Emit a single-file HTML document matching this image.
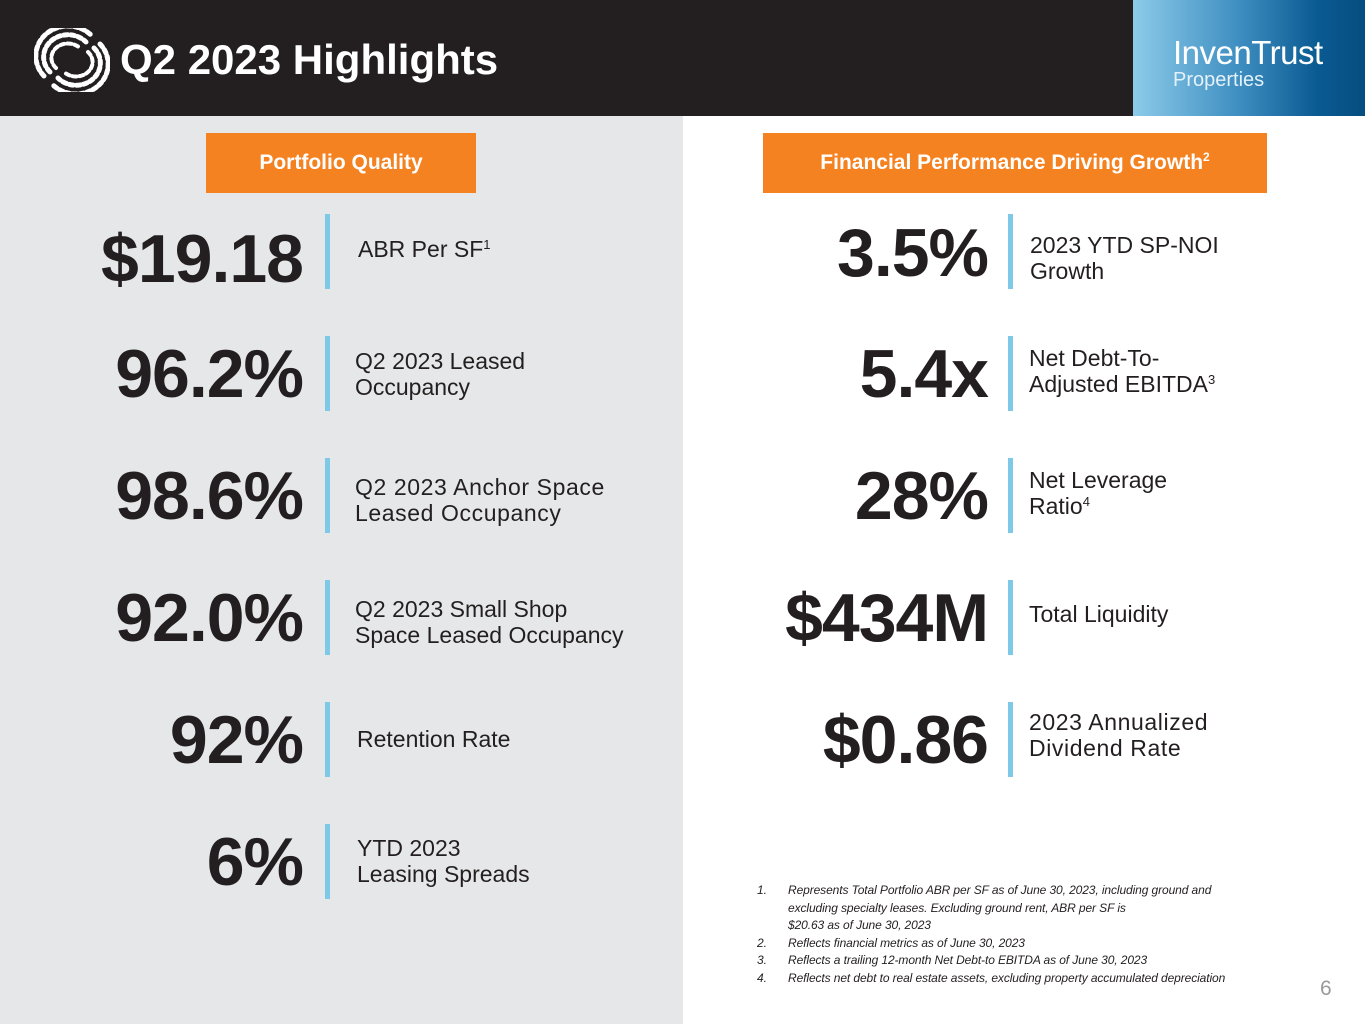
<!DOCTYPE html>
<html><head><meta charset="utf-8">
<style>
*{margin:0;padding:0;box-sizing:border-box}
body{width:1365px;height:1024px;position:relative;overflow:hidden;background:#fff;font-family:"Liberation Sans",sans-serif;color:#231f20}
.abs{position:absolute}
.hdr{left:0;top:0;width:1365px;height:116px;background:#231f20}
.brand{left:1133px;top:0;width:232px;height:116px;background:linear-gradient(90deg,#8ccbe9 0%,#3f8fc2 45%,#0a5a92 80%,#064d80 100%)}
.leftbg{left:0;top:116px;width:683px;height:908px;background:#e6e7e8}
.tab{background:#f58220;color:#fff;font-weight:bold;font-size:21px;text-align:center;line-height:60px;height:60px;top:133px}
.tab sup{font-size:12px;line-height:0;vertical-align:8px}
.num{font-weight:bold;font-size:68px;line-height:76px;height:76px;text-align:right;width:400px;letter-spacing:-1px}
.bar{width:5px;height:75px;background:#7ec8e8}
.lbl{font-size:23px;line-height:26px;color:#231f20}
.lbl sup{font-size:13px;line-height:0;vertical-align:8px}
.fn{left:757px;font-size:12px;font-style:italic;letter-spacing:-0.1px;line-height:17.5px;color:#231f20}
</style></head><body>
<div class="abs hdr"></div>
<svg class="abs" style="left:34px;top:28px" width="76" height="64" viewBox="0 0 76 64">
<g fill="none" stroke="#fff" stroke-linecap="round">
<path d="M10 48 A30 28 0 0 1 58 8" stroke-width="5" stroke-dasharray="4 3"/>
<path d="M16 44 A23 21 0 0 1 52 14" stroke-width="5" stroke-dasharray="4 3"/>
<path d="M22 40 A16 14 0 0 1 46 20" stroke-width="4" stroke-dasharray="4 3"/>
<path d="M66 16 A30 28 0 0 1 18 56" stroke-width="5" stroke-dasharray="4 3"/>
<path d="M60 20 A23 21 0 0 1 24 50" stroke-width="5" stroke-dasharray="4 3"/>
<path d="M54 24 A16 14 0 0 1 30 44" stroke-width="4" stroke-dasharray="4 3"/>
</g></svg>
<div class="abs" style="left:120px;top:36px;font-size:42px;font-weight:bold;color:#fff;line-height:48px">Q2 2023 Highlights</div>
<div class="abs brand">
<div class="abs" style="left:40px;top:35px;font-size:33px;color:#fff;line-height:36px;letter-spacing:-0.5px">InvenTrust</div>
<div class="abs" style="left:40px;top:68px;font-size:20px;color:#e4f1f9;line-height:24px">Properties</div>
</div>
<div class="abs leftbg"></div>

<div class="abs tab" style="left:206px;width:270px">Portfolio Quality</div>
<div class="abs tab" style="left:763px;width:504px">Financial Performance Driving Growth<sup>2</sup></div>

<div class="abs num" style="left:-97px;top:221px">$19.18</div>
<div class="abs bar" style="left:325px;top:214px"></div>
<div class="abs lbl" style="left:358px;top:236px">ABR Per SF<sup>1</sup></div>

<div class="abs num" style="left:-97px;top:336px">96.2%</div>
<div class="abs bar" style="left:325px;top:336px"></div>
<div class="abs lbl" style="left:355px;top:348px">Q2 2023 Leased<br>Occupancy</div>

<div class="abs num" style="left:-97px;top:458px">98.6%</div>
<div class="abs bar" style="left:325px;top:458px"></div>
<div class="abs lbl" style="left:355px;top:474px;letter-spacing:0.6px">Q2 2023 Anchor Space<br>Leased Occupancy</div>

<div class="abs num" style="left:-97px;top:580px">92.0%</div>
<div class="abs bar" style="left:325px;top:580px"></div>
<div class="abs lbl" style="left:355px;top:596px">Q2 2023 Small Shop<br>Space Leased Occupancy</div>

<div class="abs num" style="left:-97px;top:702px">92%</div>
<div class="abs bar" style="left:325px;top:702px"></div>
<div class="abs lbl" style="left:357px;top:726px">Retention Rate</div>

<div class="abs num" style="left:-97px;top:824px">6%</div>
<div class="abs bar" style="left:325px;top:824px"></div>
<div class="abs lbl" style="left:357px;top:835px">YTD 2023<br>Leasing Spreads</div>

<div class="abs num" style="left:588px;top:215px">3.5%</div>
<div class="abs bar" style="left:1008px;top:214px"></div>
<div class="abs lbl" style="left:1030px;top:232px">2023 YTD SP-NOI<br>Growth</div>

<div class="abs num" style="left:588px;top:336px">5.4x</div>
<div class="abs bar" style="left:1008px;top:336px"></div>
<div class="abs lbl" style="left:1029px;top:345px">Net Debt-To-<br>Adjusted EBITDA<sup>3</sup></div>

<div class="abs num" style="left:588px;top:458px">28%</div>
<div class="abs bar" style="left:1008px;top:458px"></div>
<div class="abs lbl" style="left:1029px;top:467px">Net Leverage<br>Ratio<sup>4</sup></div>

<div class="abs num" style="left:588px;top:580px">$434M</div>
<div class="abs bar" style="left:1008px;top:580px"></div>
<div class="abs lbl" style="left:1029px;top:601px">Total Liquidity</div>

<div class="abs num" style="left:588px;top:702px">$0.86</div>
<div class="abs bar" style="left:1008px;top:702px"></div>
<div class="abs lbl" style="left:1029px;top:709px;letter-spacing:0.6px">2023 Annualized<br>Dividend Rate</div>

<div class="abs fn" style="top:882px">
<div style="position:relative;padding-left:31px"><span style="position:absolute;left:0">1.</span>Represents Total Portfolio ABR per SF as of June 30, 2023, including ground and<br>excluding specialty leases. Excluding ground rent, ABR per SF is<br>$20.63 as of June 30, 2023</div>
<div style="position:relative;padding-left:31px"><span style="position:absolute;left:0">2.</span>Reflects financial metrics as of June 30, 2023</div>
<div style="position:relative;padding-left:31px"><span style="position:absolute;left:0">3.</span>Reflects a trailing 12-month Net Debt-to EBITDA as of June 30, 2023</div>
<div style="position:relative;padding-left:31px"><span style="position:absolute;left:0">4.</span>Reflects net debt to real estate assets, excluding property accumulated depreciation</div>
</div>
<div class="abs" style="left:1320px;top:977px;font-size:21px;color:#9a9a9a">6</div>
</body></html>
